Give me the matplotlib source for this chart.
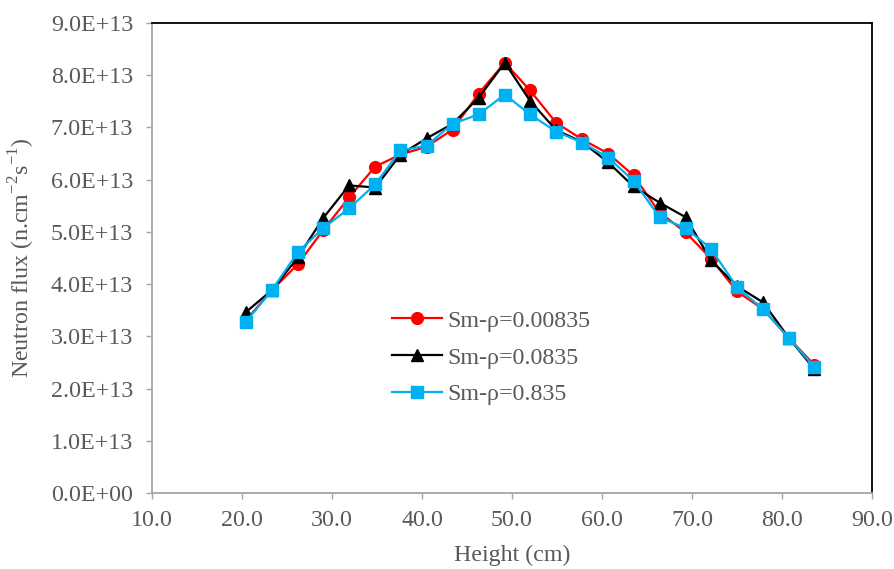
# Neutron flux vs height for three Sm densities
import matplotlib.pyplot as plt
from matplotlib.ticker import FormatStrFormatter, FuncFormatter

plt.rcParams['font.family'] = ['Liberation Serif', 'DejaVu Serif']
plt.rcParams['mathtext.fontset'] = 'custom'
plt.rcParams['mathtext.rm'] = 'Liberation Serif'

# Data
height = [20.4, 23.3, 26.2, 29.0, 31.9, 34.8, 37.6, 40.5, 43.4, 46.3, 49.2, 52.0,
          54.9, 57.8, 60.7, 63.5, 66.4, 69.3, 72.1, 75.0, 77.9, 80.8, 83.6]
flux_00835 = [3.30, 3.88, 4.38, 5.03, 5.66, 6.25, 6.48, 6.63, 6.96, 7.65, 8.24, 7.71,
              7.09, 6.77, 6.50, 6.08, 5.37, 4.99, 4.49, 3.86, 3.52, 2.96, 2.45]
flux_0835 = [3.46, 3.88, 4.51, 5.26, 5.89, 5.85, 6.48, 6.79, 7.07, 7.57, 8.24, 7.51,
             6.95, 6.72, 6.33, 5.87, 5.56, 5.28, 4.46, 3.96, 3.65, 2.96, 2.37]
flux_835 = [3.27, 3.88, 4.61, 5.07, 5.45, 5.91, 6.56, 6.65, 7.07, 7.25, 7.63, 7.25,
            6.92, 6.71, 6.42, 5.98, 5.28, 5.07, 4.68, 3.94, 3.52, 2.96, 2.41]
labels = ['Sm-ρ=0.00835', 'Sm-ρ=0.0835', 'Sm-ρ=0.835']

scale = 1e13
txt = '#595959'
axcol = '#A6A6A6'
fs = 17.3

fig = plt.figure(figsize=(8.95, 5.69), dpi=100)
ax = fig.add_axes([152/895, 1-493/569, (872-152)/895, (493-23)/569])

ax.plot(height, [v*scale for v in flux_00835], color='#FF0000', marker='o',
        markersize=8.5, lw=1.6, label=labels[0])
ax.plot(height, [v*scale for v in flux_0835], color='black', marker='^',
        markersize=8.5, lw=1.6, label=labels[1])
ax.plot(height, [v*scale for v in flux_835], color='#00B0F0', marker='s',
        markersize=8.5, lw=1.6, label=labels[2])

ax.set_xlim(10, 90)
ax.set_ylim(0, 9e13)
ax.set_xticks(range(10, 91, 10))
ax.set_yticks([i*1e13 for i in range(10)])
ax.xaxis.set_major_formatter(FormatStrFormatter('%.1f'))

def sci(v, pos):
    return '%.1E' % v if v else '0.0E+00'
ax.yaxis.set_major_formatter(FuncFormatter(sci))

for side in ['left', 'bottom']:
    ax.spines[side].set_color(axcol)
    ax.spines[side].set_linewidth(1.3)
for side in ['top', 'right']:
    ax.spines[side].set_color('black')
    ax.spines[side].set_linewidth(1.3)

ax.tick_params(axis='both', colors=axcol, labelcolor=txt, labelsize=fs,
               direction='out', length=4.5, width=1)
ax.tick_params(axis='x', pad=8)
ax.tick_params(axis='y', pad=9)

ax.set_xlabel('Height (cm)', color=txt, fontsize=fs, labelpad=10)
ax.set_ylabel('Neutron flux (n.cm$^{\\mathregular{-2}}$s$^{\\mathregular{-1}}$)',
              color=txt, fontsize=fs, labelpad=10)

leg = ax.legend(loc='upper left', bbox_to_anchor=(392/895, 1-310/569),
                bbox_transform=fig.transFigure, frameon=False, fontsize=fs,
                handlelength=2.1, labelspacing=0.62, handletextpad=0.2,
                borderpad=0, borderaxespad=0)
for t in leg.get_texts():
    t.set_color(txt)

fig.savefig('out.png', dpi=100)
